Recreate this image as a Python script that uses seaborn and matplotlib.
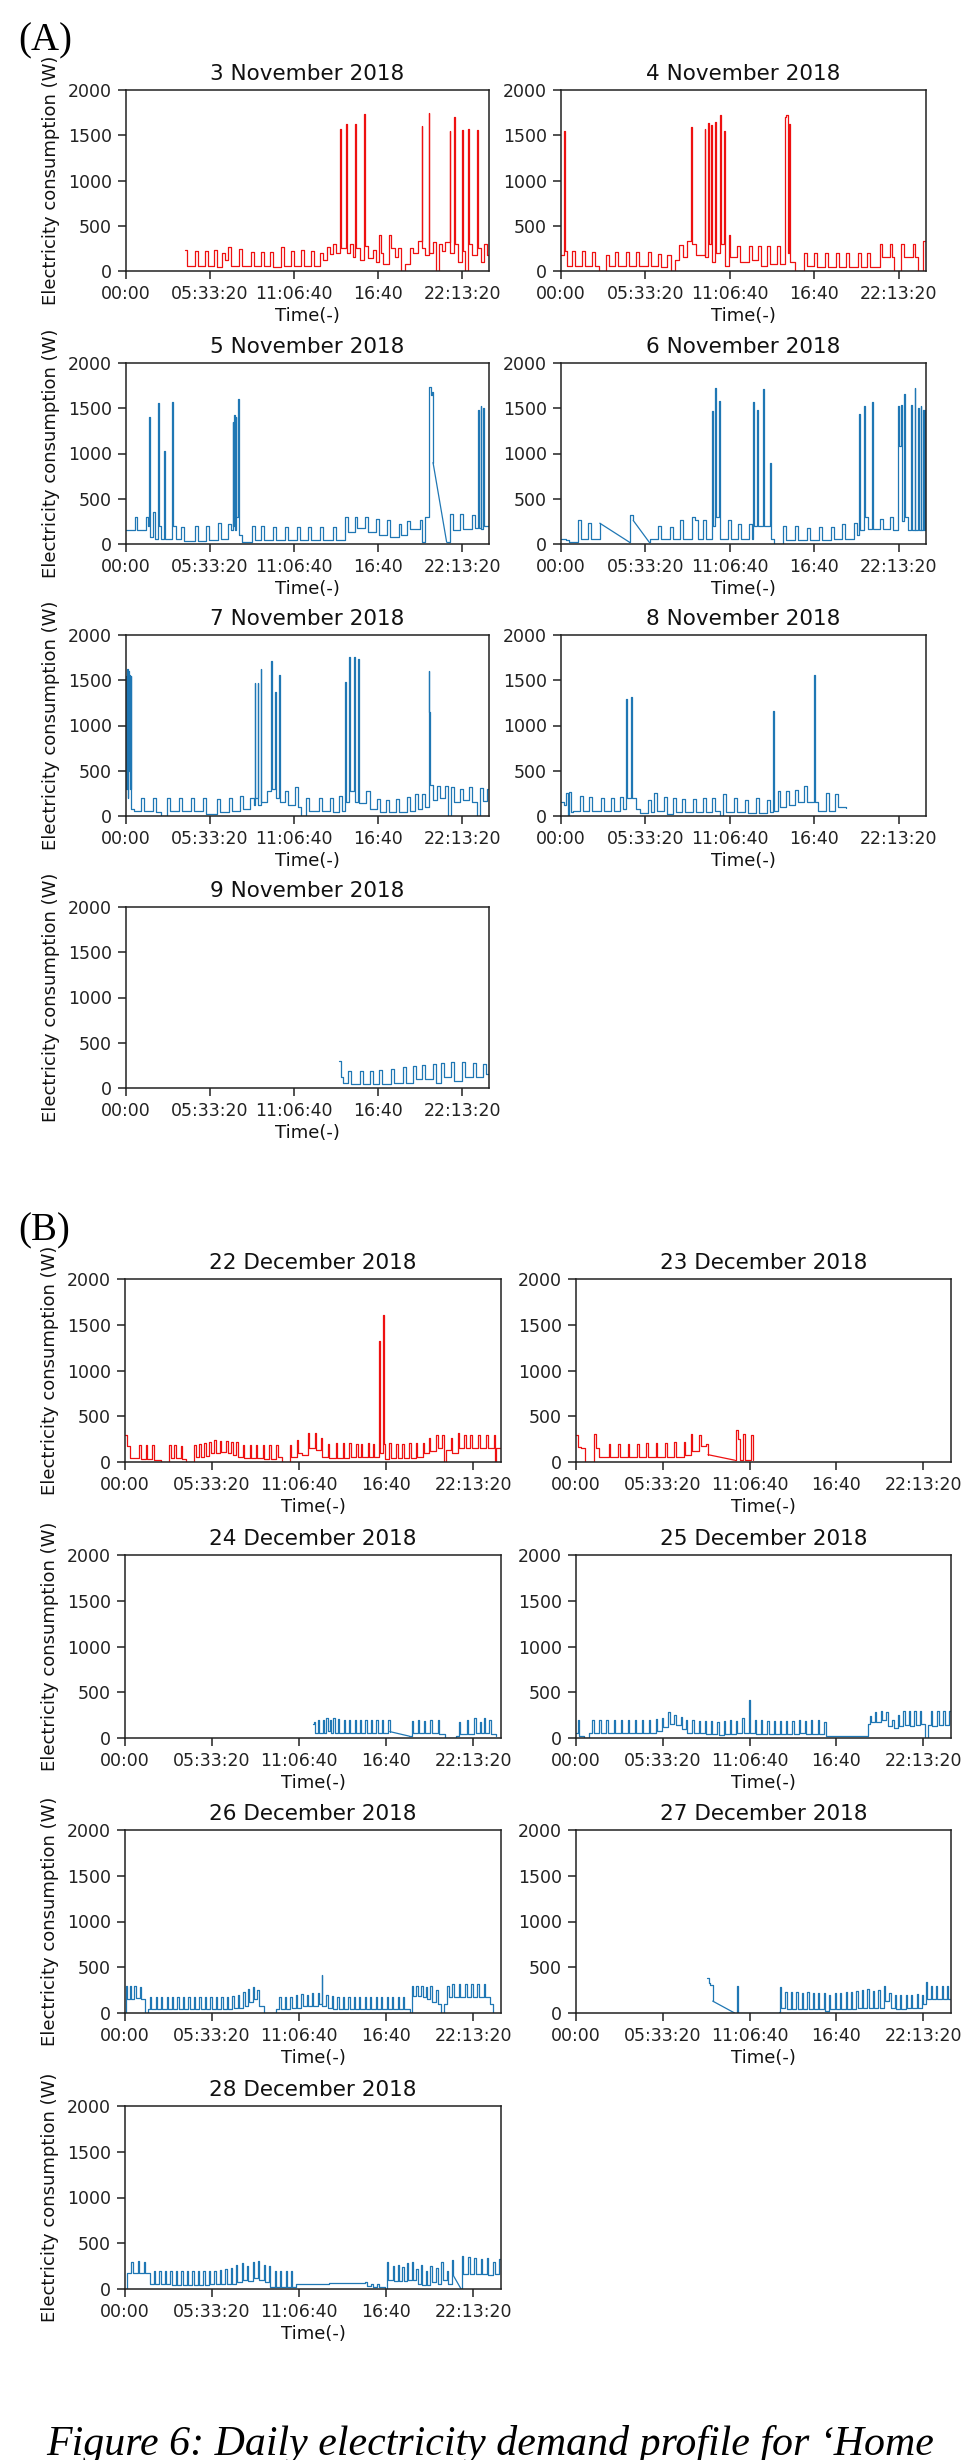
import pandas as pd
import matplotlib
matplotlib.use('Agg')
import matplotlib.pyplot as plt
import seaborn as sns

# each day: alternating hour, watts (change points, drawn as steps)
nov03 = [3.9, 230, 4.05, 60, 4.55, 220, 4.75, 60, 5.2, 220, 5.4, 60, 5.85, 230, 6.0, 40,
         6.35, 200, 6.55, 120, 6.75, 260, 6.95, 60, 7.5, 240, 7.7, 60, 8.25, 210, 8.45, 60,
         8.9, 210, 9.1, 60, 9.5, 210, 9.7, 40, 10.25, 260, 10.45, 60, 10.9, 220, 11.1, 60,
         11.55, 230, 11.75, 60, 12.2, 220, 12.4, 60, 12.8, 200, 13.0, 120, 13.3, 260, 13.5, 190,
         13.7, 300, 13.9, 200, 14.15, 1570, 14.2, 250, 14.55, 1620, 14.6, 200, 14.8, 300, 15.0, 150,
         15.15, 1620, 15.2, 250, 15.45, 120, 15.75, 1730, 15.8, 280, 16.0, 140, 16.3, 230, 16.5, 100,
         16.7, 400, 16.85, 200, 17.0, 80, 17.4, 400, 17.55, 250, 17.8, 150, 18.0, 250, 18.2, 0,
         18.45, 80, 18.8, 250, 19.0, 200, 19.3, 330, 19.55, 1600, 19.6, 250, 19.8, 180, 20.0, 1750,
         20.05, 200, 20.3, 320, 20.5, 0, 20.7, 300, 20.9, 220, 21.1, 320, 21.4, 1550, 21.45, 200,
         21.7, 1700, 21.75, 300, 21.95, 100, 22.2, 1560, 22.25, 220, 22.4, 0, 22.6, 1570, 22.65, 300,
         22.9, 180, 23.2, 1560, 23.25, 250, 23.5, 100, 23.7, 300, 23.9, 180, 24.0, 180]
nov04 = [0.0, 180, 0.2, 1550, 0.25, 220, 0.4, 60, 0.75, 220, 0.95, 60, 1.4, 220, 1.6, 60,
         2.05, 210, 2.25, 60, 2.5, 0, 2.95, 180, 3.15, 60, 3.55, 210, 3.75, 60, 4.25, 210, 4.45, 60,
         4.95, 210, 5.15, 60, 5.7, 210, 5.9, 60, 6.35, 190, 6.55, 40, 7.0, 180, 7.2, 0, 7.5, 120,
         7.75, 290, 8.0, 160, 8.3, 330, 8.55, 1590, 8.6, 300, 8.9, 180, 9.45, 1570, 9.5, 150,
         9.65, 1640, 9.7, 300, 9.85, 1610, 9.9, 100, 10.15, 1650, 10.2, 200, 10.45, 1720, 10.52, 300,
         10.75, 1550, 10.8, 50, 11.05, 400, 11.1, 150, 11.6, 280, 11.8, 100, 12.35, 280, 12.55, 120,
         12.95, 280, 13.15, 60, 13.55, 280, 13.75, 80, 14.2, 280, 14.4, 80, 14.75, 1700, 14.82, 1720,
         14.9, 200, 15.0, 1620, 15.08, 100, 15.4, 0, 15.95, 200, 16.15, 50, 16.65, 200, 16.85, 40,
         17.35, 200, 17.55, 40, 18.05, 200, 18.25, 40, 18.75, 200, 18.95, 40, 19.5, 200, 19.7, 40,
         20.15, 200, 20.35, 40, 20.95, 300, 21.1, 150, 21.6, 300, 21.75, 150, 21.9, 0, 22.35, 300,
         22.55, 150, 23.15, 300, 23.3, 150, 23.5, 0, 23.8, 330, 24.0, 150]
nov05 = [0.0, 160, 0.6, 300, 0.75, 160, 1.3, 300, 1.45, 200, 1.55, 1400, 1.6, 80, 1.8, 350,
         1.9, 60, 2.1, 1560, 2.15, 200, 2.3, 60, 2.5, 1030, 2.55, 60, 3.05, 1570, 3.1, 200, 3.3, 60,
         3.65, 190, 3.85, 30, 4.55, 200, 4.75, 30, 5.3, 200, 5.5, 40, 6.05, 230, 6.25, 60, 6.75, 220,
         6.95, 150, 7.05, 1350, 7.1, 200, 7.15, 1430, 7.2, 150, 7.25, 1400, 7.3, 300, 7.4, 1600,
         7.45, 100, 7.7, 20, 8.3, 200, 8.5, 40, 8.95, 200, 9.15, 40, 9.75, 190, 9.95, 40, 10.5, 190,
         10.7, 40, 11.3, 190, 11.5, 40, 12.05, 190, 12.25, 40, 12.85, 190, 13.05, 40, 13.7, 190,
         13.9, 40, 14.45, 300, 14.65, 130, 15.15, 300, 15.3, 180, 15.8, 300, 16.0, 130, 16.55, 280,
         16.75, 100, 17.25, 260, 17.45, 80, 18.05, 220, 18.15, 100, 18.6, 250, 18.8, 170, 19.45, 260,
         19.6, 20, 19.8, 300, 20.05, 1730, 20.15, 1650, 20.25, 1680, 20.3, 900, 21.2, 20, 21.45, 330,
         21.6, 160, 22.1, 330, 22.3, 170, 22.9, 320, 23.1, 180, 23.3, 1480, 23.35, 180, 23.45, 1520,
         23.5, 170, 23.6, 1500, 23.65, 200, 24.0, 200]
nov06 = [0.0, 60, 0.3, 40, 0.55, 20, 1.1, 270, 1.3, 60, 1.8, 230, 2.0, 60, 2.55, 230, 4.5, 20,
         4.55, 320, 4.75, 260, 5.8, 20, 5.85, 60, 6.4, 200, 6.6, 60, 7.15, 190, 7.35, 60, 7.85, 270,
         8.05, 60, 8.6, 300, 8.8, 260, 9.0, 60, 9.35, 260, 9.55, 60, 9.95, 1470, 10.0, 200,
         10.15, 1720, 10.22, 300, 10.38, 1580, 10.43, 60, 11.0, 270, 11.2, 60, 11.65, 220, 11.85, 60,
         12.35, 220, 12.55, 60, 12.65, 1570, 12.7, 200, 12.9, 1480, 12.97, 200, 13.3, 1710, 13.37, 200,
         13.75, 900, 13.8, 60, 14.0, 0, 14.6, 200, 14.8, 40, 15.4, 200, 15.6, 40, 16.15, 180, 16.35, 40,
         16.95, 190, 17.15, 40, 17.75, 190, 17.95, 60, 18.5, 220, 18.7, 60, 19.25, 230, 19.45, 100,
         19.6, 1440, 19.65, 150, 19.95, 1530, 20.0, 300, 20.2, 170, 20.45, 1570, 20.5, 170, 20.95, 280,
         21.15, 170, 21.6, 300, 21.8, 150, 22.15, 1530, 22.2, 1520, 22.25, 1080, 22.35, 1540, 22.4, 250,
         22.55, 1660, 22.6, 300, 22.8, 150, 23.0, 1540, 23.05, 150, 23.25, 1720, 23.3, 150, 23.5, 1500,
         23.55, 150, 23.65, 1520, 23.7, 150, 23.8, 1480, 23.85, 150, 23.95, 1480, 24.0, 150]
nov07 = [0.0, 1550, 0.03, 300, 0.06, 1620, 0.1, 200, 0.14, 1600, 0.18, 500, 0.22, 1560, 0.26, 300,
         0.3, 1550, 0.36, 80, 0.5, 50, 1.0, 200, 1.2, 50, 1.8, 200, 2.0, 40, 2.3, 0, 2.7, 200, 2.9, 50,
         3.5, 200, 3.7, 50, 4.3, 200, 4.5, 50, 5.1, 200, 5.3, 20, 6.0, 190, 6.2, 40, 6.8, 200, 7.0, 50,
         7.55, 220, 7.75, 80, 8.2, 200, 8.45, 120, 8.5, 1470, 8.55, 200, 8.7, 1470, 8.75, 120,
         8.9, 1620, 8.95, 150, 9.3, 280, 9.6, 1710, 9.67, 300, 9.85, 1370, 9.9, 200, 10.1, 1560,
         10.15, 150, 10.5, 280, 10.7, 120, 11.2, 320, 11.4, 100, 11.55, 0, 11.9, 200, 12.1, 50,
         12.75, 200, 12.95, 50, 13.5, 200, 13.7, 40, 14.1, 220, 14.3, 60, 14.5, 1480, 14.55, 150,
         14.75, 1760, 14.82, 280, 15.05, 1760, 15.12, 150, 15.35, 1740, 15.42, 140, 15.9, 280, 16.1, 80,
         16.6, 190, 16.8, 40, 17.2, 180, 17.4, 40, 17.85, 190, 18.05, 40, 18.55, 210, 18.75, 60,
         19.1, 240, 19.3, 80, 19.6, 240, 19.8, 100, 20.0, 1600, 20.05, 1150, 20.1, 340, 20.3, 180,
         20.55, 330, 20.75, 200, 21.1, 330, 21.3, 0, 21.5, 320, 21.7, 150, 22.1, 300, 22.3, 180,
         22.7, 320, 22.9, 160, 23.2, 0, 23.4, 310, 23.6, 170, 23.9, 300, 24.0, 180]
nov08 = [0.0, 160, 0.2, 120, 0.35, 250, 0.45, 0, 0.55, 270, 0.65, 40, 0.8, 60, 1.25, 220, 1.45, 60,
         1.85, 210, 2.05, 60, 2.6, 200, 2.8, 60, 3.3, 200, 3.5, 60, 3.9, 210, 4.1, 80, 4.3, 1290,
         4.35, 200, 4.63, 1320, 4.68, 200, 4.9, 80, 5.2, 30, 5.7, 180, 5.9, 40, 6.1, 250, 6.3, 60,
         6.75, 210, 6.95, 20, 7.35, 200, 7.55, 40, 7.95, 190, 8.15, 40, 8.65, 190, 8.85, 40, 9.35, 200,
         9.55, 40, 9.95, 200, 10.15, 60, 10.45, 0, 10.65, 240, 10.85, 40, 11.35, 200, 11.55, 40,
         12.1, 180, 12.3, 30, 12.8, 200, 13.0, 30, 13.55, 180, 13.75, 40, 13.95, 1160, 14.0, 60,
         14.25, 280, 14.4, 100, 14.8, 280, 15.0, 120, 15.4, 290, 15.6, 160, 15.95, 330, 16.15, 150,
         16.65, 1560, 16.7, 150, 16.9, 60, 17.4, 250, 17.6, 50, 18.0, 240, 18.2, 100, 18.75, 90]
nov09 = [14.1, 300, 14.2, 120, 14.35, 60, 14.65, 190, 14.85, 40, 15.45, 190, 15.65, 40, 16.1, 190,
         16.3, 40, 16.75, 200, 16.95, 40, 17.55, 210, 17.75, 50, 18.3, 230, 18.5, 60, 18.95, 240,
         19.15, 100, 19.6, 250, 19.8, 100, 20.3, 260, 20.5, 60, 20.85, 280, 21.05, 120, 21.5, 290,
         21.7, 80, 22.2, 290, 22.4, 120, 22.95, 280, 23.15, 120, 23.6, 270, 23.8, 150, 24.0, 200]
dec22 = [0.0, 290, 0.1, 170, 0.35, 40, 0.9, 190, 1.0, 30, 1.32, 190, 1.42, 30, 1.75, 190, 1.85, 20,
         2.3, 0, 2.82, 190, 2.92, 40, 3.15, 190, 3.25, 40, 3.55, 180, 3.65, 30, 3.9, 0, 4.42, 190,
         4.52, 60, 4.75, 200, 4.85, 60, 5.05, 210, 5.15, 70, 5.38, 220, 5.48, 100, 5.7, 240, 5.8, 100,
         6.05, 230, 6.15, 110, 6.45, 230, 6.55, 100, 6.78, 220, 6.88, 80, 7.1, 220, 7.2, 60, 7.5, 190,
         7.6, 40, 7.95, 190, 8.05, 40, 8.35, 190, 8.45, 40, 8.8, 190, 8.9, 30, 9.2, 190, 9.3, 30,
         9.65, 190, 9.75, 60, 10.0, 0, 10.5, 190, 10.6, 60, 10.95, 240, 11.05, 100, 11.3, 80,
         11.65, 320, 11.75, 150, 12.1, 320, 12.2, 130, 12.5, 260, 12.6, 60, 12.95, 200, 13.05, 40,
         13.45, 210, 13.55, 40, 13.9, 210, 14.0, 40, 14.3, 210, 14.4, 50, 14.75, 200, 14.85, 50,
         15.05, 200, 15.15, 50, 15.5, 210, 15.6, 50, 15.8, 200, 15.9, 60, 16.2, 1320, 16.25, 100,
         16.45, 1610, 16.53, 200, 16.6, 30, 16.85, 210, 16.95, 40, 17.3, 200, 17.4, 40, 17.7, 200,
         17.8, 40, 18.15, 210, 18.25, 40, 18.55, 210, 18.65, 60, 19.0, 210, 19.1, 100, 19.4, 260,
         19.5, 120, 19.85, 300, 19.95, 150, 20.25, 290, 20.35, 0, 20.5, 130, 20.8, 260, 20.9, 100,
         21.25, 320, 21.35, 150, 21.65, 300, 21.75, 150, 22.05, 300, 22.15, 150, 22.55, 300, 22.65, 150,
         23.05, 300, 23.15, 150, 23.55, 300, 23.6, 0, 23.7, 150, 24.0, 150]
dec23 = [0.0, 300, 0.15, 160, 0.35, 150, 0.55, 0, 1.15, 310, 1.25, 150, 1.5, 60, 2.1, 200, 2.2, 60,
         2.7, 200, 2.8, 60, 3.3, 200, 3.4, 60, 3.9, 200, 4.0, 60, 4.5, 210, 4.6, 60, 5.1, 210, 5.2, 60,
         5.7, 210, 5.8, 60, 6.3, 220, 6.4, 60, 6.9, 220, 7.0, 80, 7.35, 310, 7.45, 120, 7.9, 300,
         8.0, 180, 8.3, 200, 8.45, 80, 10.15, 20, 10.25, 350, 10.35, 250, 10.5, 20, 10.7, 310,
         10.8, 20, 11.2, 300, 11.3, 20]
dec24 = [12.0, 150, 12.05, 180, 12.15, 60, 12.3, 200, 12.38, 50, 12.65, 200, 12.73, 60, 12.85, 220,
         12.93, 80, 13.1, 200, 13.18, 60, 13.3, 220, 13.38, 50, 13.6, 210, 13.68, 50, 13.95, 200,
         14.03, 50, 14.3, 200, 14.38, 50, 14.65, 200, 14.73, 50, 15.0, 200, 15.08, 50, 15.35, 200,
         15.43, 50, 15.7, 200, 15.78, 50, 16.05, 200, 16.13, 50, 16.4, 200, 16.5, 50, 16.8, 200,
         16.9, 70, 18.15, 20, 18.3, 190, 18.38, 50, 18.7, 200, 18.78, 50, 19.1, 190, 19.18, 50,
         19.5, 200, 19.58, 50, 19.95, 200, 20.05, 40, 20.4, 0, 21.1, 20, 21.3, 180, 21.38, 40,
         21.8, 200, 21.88, 40, 22.3, 220, 22.38, 60, 22.65, 180, 22.73, 60, 22.9, 220, 22.98, 60,
         23.25, 200, 23.35, 40, 23.7, 20]
dec25 = [0.0, 60, 0.1, 200, 0.2, 20, 0.5, 0, 0.85, 60, 1.05, 200, 1.13, 60, 1.5, 200, 1.58, 60,
         1.95, 200, 2.03, 60, 2.4, 200, 2.48, 60, 2.85, 200, 2.93, 60, 3.3, 200, 3.38, 60, 3.75, 200,
         3.83, 60, 4.2, 200, 4.28, 60, 4.65, 200, 4.73, 60, 5.1, 210, 5.18, 80, 5.5, 220, 5.58, 120,
         5.9, 280, 6.0, 150, 6.3, 250, 6.4, 140, 6.7, 230, 6.78, 100, 7.05, 200, 7.13, 60, 7.45, 200,
         7.53, 50, 7.85, 190, 7.93, 50, 8.25, 190, 8.33, 40, 8.65, 190, 8.73, 40, 9.05, 180, 9.13, 30,
         9.45, 190, 9.53, 40, 9.85, 200, 9.93, 40, 10.25, 190, 10.33, 60, 10.65, 220, 10.73, 50,
         11.1, 410, 11.15, 60, 11.45, 200, 11.53, 40, 11.85, 200, 11.93, 40, 12.25, 190, 12.33, 40,
         12.65, 190, 12.73, 40, 13.05, 190, 13.13, 40, 13.45, 190, 13.53, 40, 13.85, 190, 13.93, 40,
         14.25, 200, 14.33, 50, 14.65, 190, 14.73, 40, 15.05, 200, 15.13, 40, 15.5, 200, 15.58, 40,
         15.9, 180, 16.0, 20, 18.6, 20, 18.7, 150, 18.8, 240, 18.9, 170, 19.15, 280, 19.23, 180,
         19.5, 290, 19.58, 200, 19.85, 280, 19.95, 130, 20.25, 200, 20.33, 110, 20.6, 250, 20.7, 130,
         20.95, 300, 21.05, 140, 21.3, 290, 21.4, 130, 21.65, 300, 21.75, 140, 22.0, 300, 22.1, 150,
         22.35, 0, 22.5, 140, 22.7, 300, 22.8, 130, 23.1, 290, 23.2, 140, 23.5, 300, 23.6, 140,
         23.9, 300, 24.0, 150]
dec26 = [0.0, 0, 0.05, 300, 0.15, 150, 0.3, 300, 0.4, 150, 0.6, 300, 0.7, 160, 0.95, 280, 1.05, 150,
         1.25, 0, 1.45, 40, 1.6, 180, 1.68, 40, 1.95, 180, 2.03, 40, 2.3, 180, 2.38, 40, 2.65, 180,
         2.73, 40, 3.0, 180, 3.08, 40, 3.35, 180, 3.43, 40, 3.7, 180, 3.78, 40, 4.05, 180, 4.13, 40,
         4.4, 180, 4.48, 40, 4.75, 180, 4.83, 40, 5.1, 180, 5.18, 40, 5.45, 180, 5.53, 40, 5.8, 180,
         5.88, 40, 6.15, 180, 6.23, 40, 6.5, 180, 6.58, 40, 6.85, 190, 6.93, 50, 7.2, 200, 7.28, 60,
         7.55, 230, 7.63, 80, 7.85, 260, 7.93, 120, 8.15, 280, 8.23, 150, 8.45, 250, 8.55, 80,
         8.85, 0, 9.65, 40, 9.85, 180, 9.93, 40, 10.2, 180, 10.28, 40, 10.55, 180, 10.63, 60,
         10.9, 200, 10.98, 60, 11.25, 210, 11.33, 80, 11.6, 200, 11.68, 80, 11.95, 220, 12.03, 80,
         12.3, 220, 12.38, 100, 12.55, 420, 12.6, 80, 12.85, 200, 12.93, 60, 13.2, 190, 13.28, 40,
         13.55, 180, 13.63, 40, 13.9, 180, 13.98, 40, 14.25, 180, 14.33, 40, 14.6, 180, 14.68, 40,
         14.95, 180, 15.03, 40, 15.3, 180, 15.38, 40, 15.65, 180, 15.73, 40, 16.0, 180, 16.08, 40,
         16.35, 180, 16.43, 40, 16.7, 180, 16.78, 40, 17.05, 180, 17.13, 40, 17.4, 180, 17.48, 40,
         17.75, 180, 17.83, 40, 18.2, 0, 18.3, 300, 18.4, 190, 18.6, 300, 18.7, 190, 18.9, 300,
         19.0, 180, 19.2, 280, 19.3, 150, 19.5, 300, 19.6, 120, 19.85, 250, 19.95, 100, 20.2, 0,
         20.35, 100, 20.55, 300, 20.65, 180, 20.9, 320, 21.0, 170, 21.3, 320, 21.4, 170, 21.7, 320,
         21.8, 170, 22.1, 320, 22.2, 170, 22.5, 320, 22.6, 170, 22.9, 320, 23.0, 170, 23.3, 100,
         23.5, 0]
dec27 = [8.4, 380, 8.5, 330, 8.6, 310, 8.75, 130, 10.15, 0, 10.3, 300, 10.38, 0, 13.0, 10,
         13.05, 280, 13.15, 60, 13.4, 230, 13.48, 40, 13.75, 230, 13.83, 40, 14.1, 230, 14.18, 40,
         14.45, 220, 14.53, 40, 14.8, 230, 14.88, 40, 15.15, 220, 15.23, 40, 15.5, 220, 15.58, 40,
         15.85, 220, 15.93, 20, 16.2, 200, 16.28, 40, 16.55, 220, 16.63, 40, 16.9, 220, 16.98, 40,
         17.25, 230, 17.33, 40, 17.6, 230, 17.68, 40, 17.95, 240, 18.03, 60, 18.3, 250, 18.38, 60,
         18.65, 260, 18.73, 60, 19.0, 240, 19.08, 60, 19.35, 250, 19.43, 60, 19.7, 290, 19.78, 130,
         20.05, 220, 20.13, 60, 20.4, 200, 20.48, 40, 20.75, 200, 20.83, 40, 21.1, 200, 21.18, 60,
         21.45, 200, 21.53, 60, 21.8, 210, 21.88, 60, 22.15, 200, 22.23, 100, 22.4, 340, 22.45, 150,
         22.7, 300, 22.78, 150, 23.05, 300, 23.13, 150, 23.4, 300, 23.48, 150, 23.75, 300, 23.83, 150,
         24.0, 150]
dec28 = [0.0, 0, 0.1, 170, 0.4, 300, 0.5, 170, 0.8, 310, 0.9, 170, 1.2, 300, 1.3, 170, 1.6, 50,
         1.85, 200, 1.93, 50, 2.2, 200, 2.28, 50, 2.55, 200, 2.63, 50, 2.9, 200, 2.98, 40, 3.25, 200,
         3.33, 40, 3.6, 200, 3.68, 40, 3.95, 200, 4.03, 40, 4.3, 200, 4.38, 40, 4.65, 200, 4.73, 40,
         5.0, 200, 5.08, 40, 5.35, 200, 5.43, 50, 5.7, 200, 5.78, 50, 6.05, 210, 6.13, 50, 6.4, 220,
         6.48, 60, 6.75, 230, 6.83, 60, 7.1, 260, 7.18, 80, 7.45, 280, 7.53, 100, 7.8, 250, 7.88, 90,
         8.15, 300, 8.23, 120, 8.5, 310, 8.58, 100, 8.85, 260, 8.93, 80, 9.2, 250, 9.28, 20, 9.55, 200,
         9.63, 20, 9.9, 200, 9.98, 20, 10.25, 200, 10.33, 20, 10.6, 200, 10.68, 20, 10.9, 60,
         13.0, 70, 15.3, 80, 15.45, 30, 15.7, 60, 15.8, 20, 16.1, 60, 16.2, 20, 16.6, 0, 16.7, 300,
         16.8, 100, 17.1, 250, 17.18, 90, 17.4, 260, 17.48, 90, 17.7, 240, 17.78, 90, 18.0, 280,
         18.08, 100, 18.3, 300, 18.38, 100, 18.6, 220, 18.68, 60, 18.9, 260, 18.98, 40, 19.2, 200,
         19.28, 40, 19.5, 250, 19.6, 80, 19.85, 230, 19.95, 60, 20.2, 300, 20.3, 100, 20.55, 200,
         20.63, 60, 20.85, 320, 20.95, 150, 21.45, 0, 21.5, 360, 21.6, 160, 21.9, 350, 22.0, 160,
         22.3, 340, 22.4, 160, 22.7, 330, 22.8, 160, 23.1, 340, 23.2, 150, 23.5, 300, 23.6, 160,
         23.9, 330, 24.0, 160]

# hours where the logger skipped and the line is drawn straight to the next point
nov05_gaps = [20.3]
nov06_gaps = [2.55, 4.75]
dec23_gaps = [8.45]
dec24_gaps = [16.9]
dec27_gaps = [8.75]
dec28_gaps = [20.95]

titles_a = ['3 November 2018', '4 November 2018', '5 November 2018', '6 November 2018',
            '7 November 2018', '8 November 2018', '9 November 2018']
titles_b = ['22 December 2018', '23 December 2018', '24 December 2018', '25 December 2018',
            '26 December 2018', '27 December 2018', '28 December 2018']
tick_hours = [0, 20000 / 3600, 40000 / 3600, 60000 / 3600, 80000 / 3600]
tick_labels = ['00:00', '05:33:20', '11:06:40', '16:40', '22:13:20']

RED = '#ee1111'
BLUE = '#1f77b4'

sns.set_style('ticks')
plt.rcParams['font.family'] = ['DejaVu Sans']
plt.rcParams['axes.edgecolor'] = '#222222'
plt.rcParams['xtick.color'] = '#222222'
plt.rcParams['ytick.color'] = '#222222'

W, H = 966, 2460
fig = plt.figure(figsize=(W / 100, H / 100), dpi=100)


def add_ax(left, top, right, height):
    return fig.add_axes([left / W, 1 - (top + height) / H, (right - left) / W, height / H])


def draw_day(ax, flat, gaps, color, title, ylabel):
    t = flat[0::2]
    w = flat[1::2]
    df = pd.DataFrame({'time': t, 'watts': w})
    df['seg'] = df['time'].isin(gaps).shift(1, fill_value=False).cumsum()
    sns.lineplot(data=df, x='time', y='watts', units='seg', estimator=None, sort=False,
                 drawstyle='steps-post', color=color, linewidth=0.9, ax=ax)
    for g in gaps:
        i = t.index(g)
        sns.lineplot(x=[t[i], t[i + 1]], y=[w[i], w[i + 1]], estimator=None, sort=False,
                     color=color, linewidth=0.9, ax=ax)
    ax.set_xlim(0, 24)
    ax.set_ylim(0, 2000)
    ax.set_xticks(tick_hours)
    ax.set_xticklabels(tick_labels)
    ax.set_yticks([0, 500, 1000, 1500, 2000])
    ax.tick_params(labelsize=12.5, length=6, width=1.1, pad=4)
    for s in ax.spines.values():
        s.set_linewidth(1.1)
    ax.set_title(title, fontsize=15.5, color='#111111', pad=7)
    ax.set_xlabel('Time(-)', fontsize=13, color='#111111', labelpad=3)
    if ylabel:
        ax.set_ylabel('Electricity consumption (W)', fontsize=13, color='#111111', labelpad=6)
    else:
        ax.set_ylabel('')


days_a = [(nov03, [], RED), (nov04, [], RED), (nov05, nov05_gaps, BLUE), (nov06, nov06_gaps, BLUE),
          (nov07, [], BLUE), (nov08, [], BLUE), (nov09, [], BLUE)]
days_b = [(dec22, [], RED), (dec23, dec23_gaps, RED), (dec24, dec24_gaps, BLUE), (dec25, [], BLUE),
          (dec26, [], BLUE), (dec27, dec27_gaps, BLUE), (dec28, dec28_gaps, BLUE)]

a_tops = [90, 363, 635, 907]
a_cols = [(126, 489), (561, 926)]
b_tops = [1279, 1555, 1830, 2106]
b_cols = [(125, 501), (576, 951)]

for k, (flat, gaps, color) in enumerate(days_a):
    r, c = divmod(k, 2)
    ax = add_ax(a_cols[c][0], a_tops[r], a_cols[c][1], 181)
    draw_day(ax, flat, gaps, color, titles_a[k], c == 0)

for k, (flat, gaps, color) in enumerate(days_b):
    r, c = divmod(k, 2)
    ax = add_ax(b_cols[c][0], b_tops[r], b_cols[c][1], 183)
    draw_day(ax, flat, gaps, color, titles_b[k], c == 0)

fig.text(18 / W, 1 - 50 / H, '(A)', fontsize=28, family='Liberation Serif', va='baseline', color='black')
fig.text(18 / W, 1 - 1240 / H, '(B)', fontsize=28, family='Liberation Serif', va='baseline', color='black')

cap = fig.text(46 / W, 1 - 2455 / H, 'Figure 6: Daily electricity demand profile for \u2018Home',
               fontsize=26, family='Liberation Serif', style='italic', va='baseline', color='black')
fig.canvas.draw()
bb = cap.get_window_extent()
cap.set_fontsize(26 * 886 / bb.width)

fig.savefig('out.png', dpi=100, facecolor='white')
